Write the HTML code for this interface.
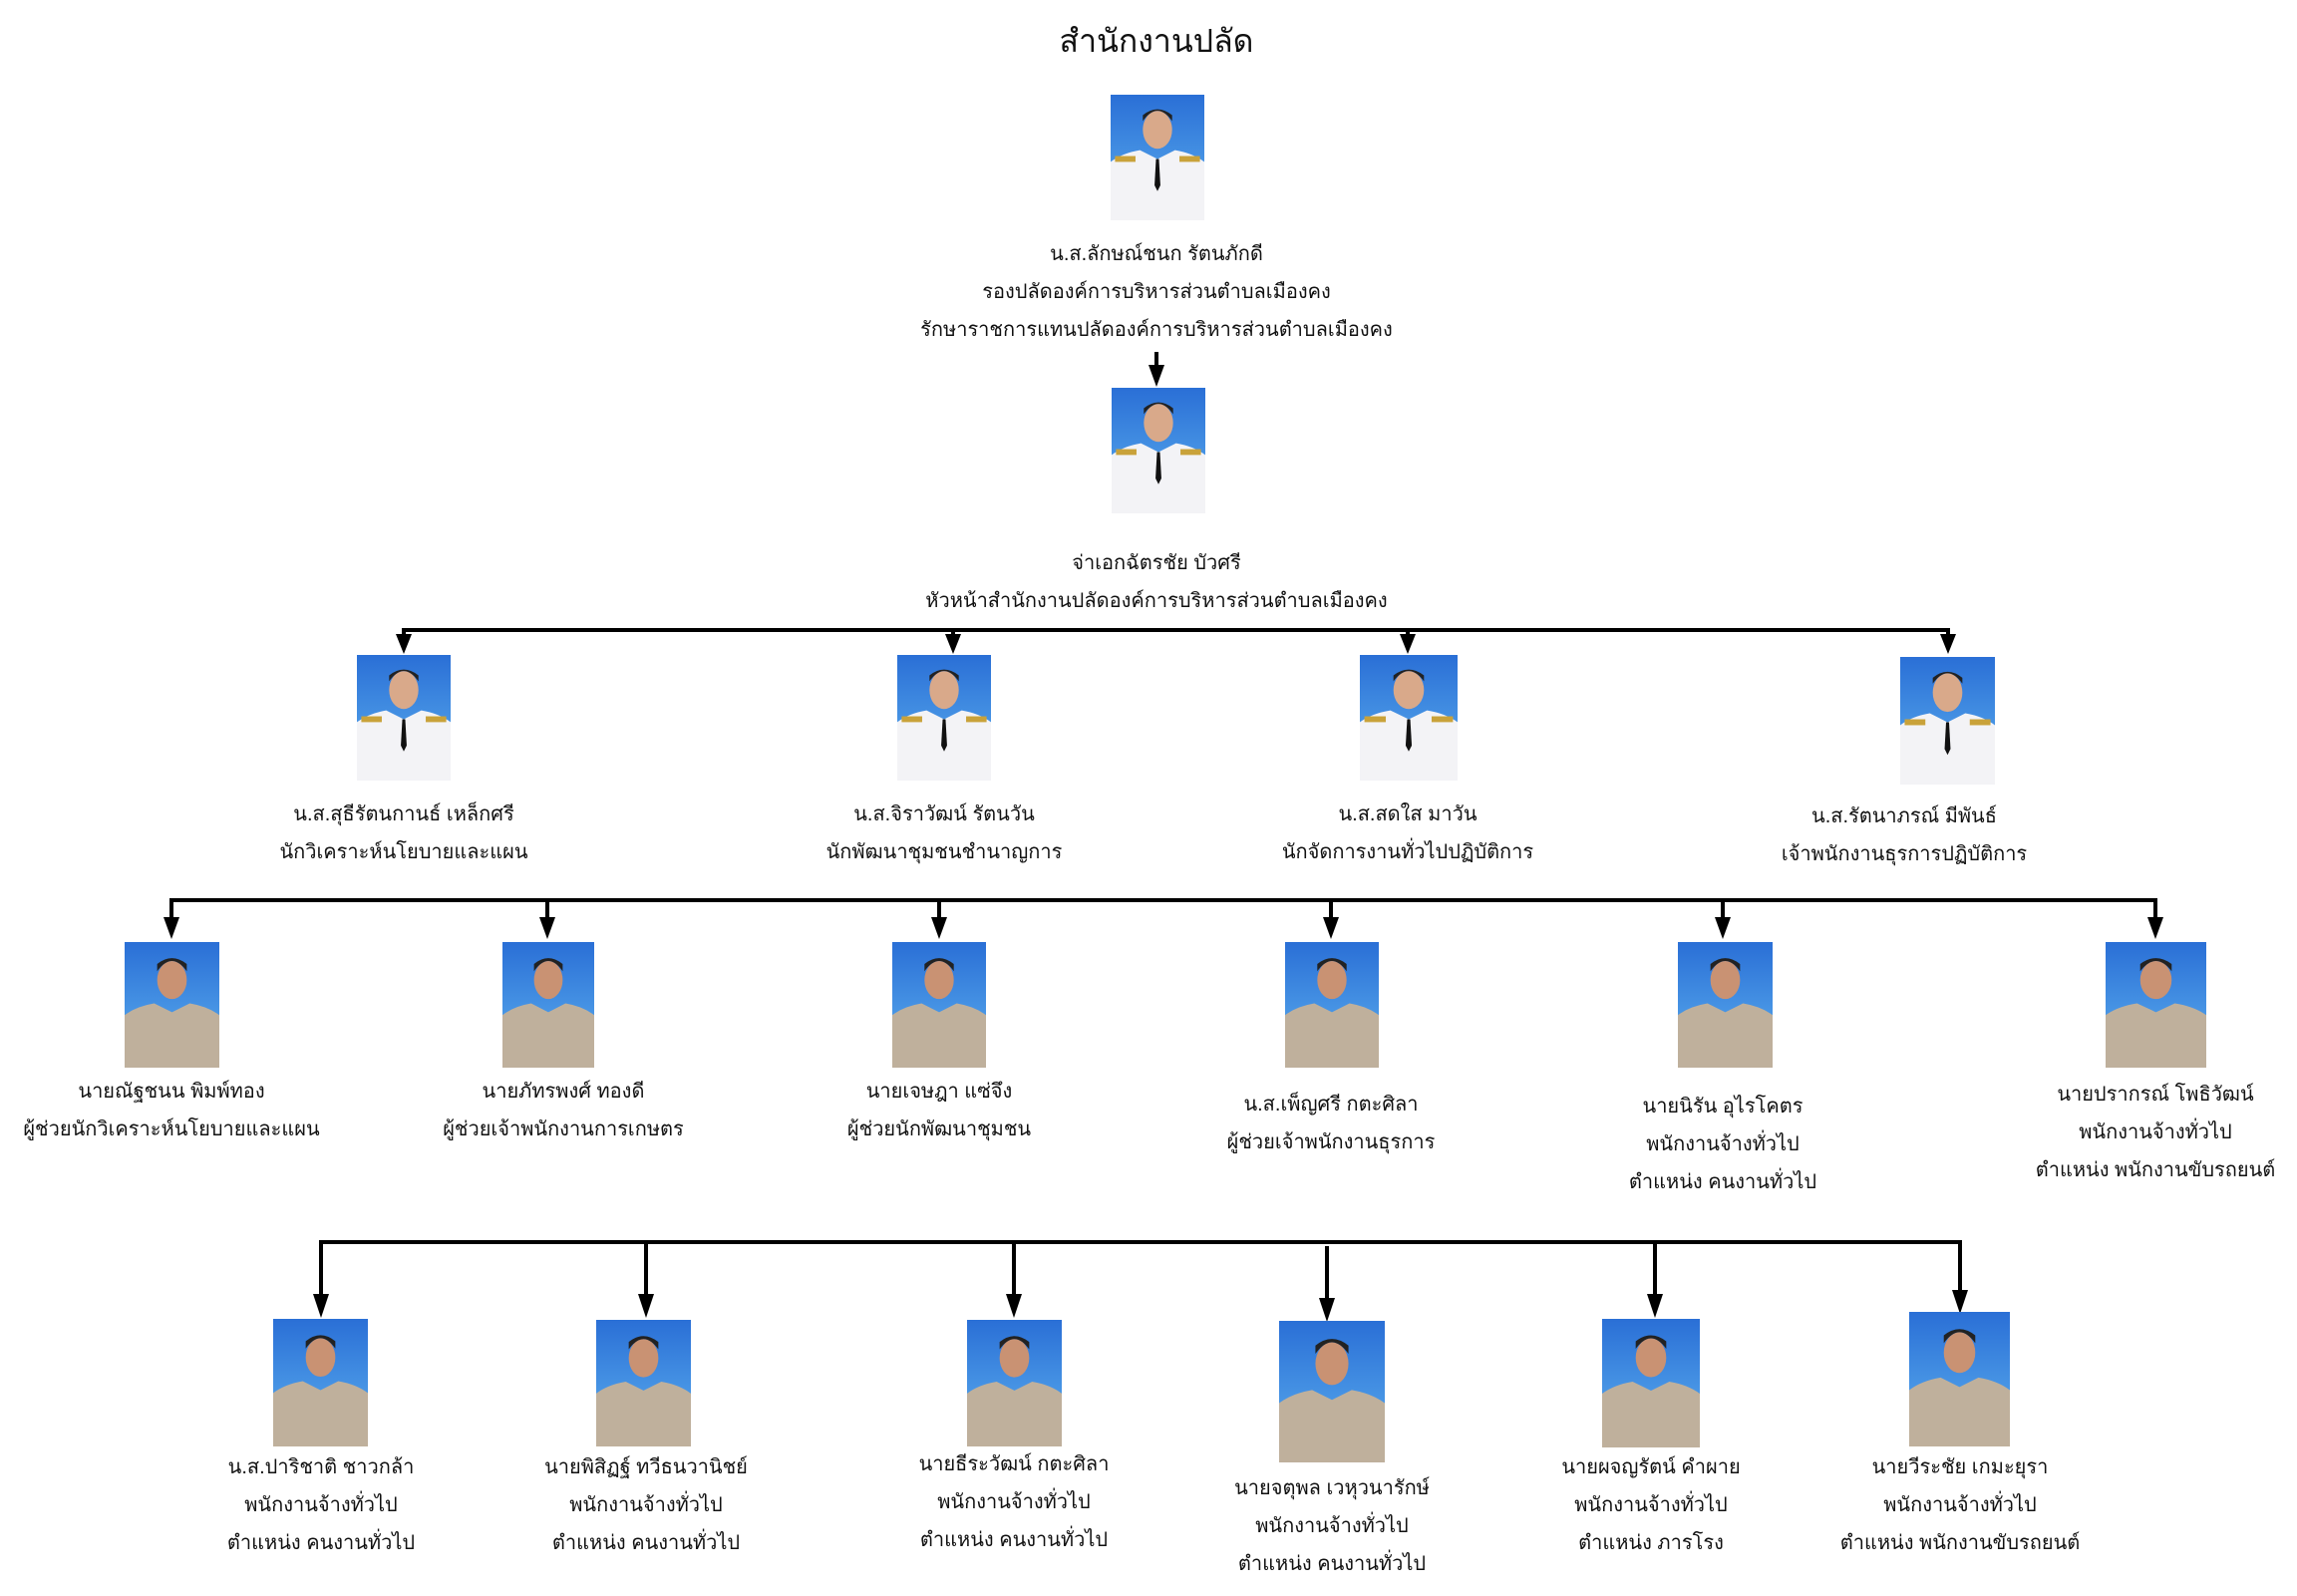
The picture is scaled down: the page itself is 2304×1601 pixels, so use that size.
<!DOCTYPE html>
<html><head><meta charset="utf-8"><style>
html,body{margin:0;padding:0;background:#fff;}
svg{display:block;}
text{font-family:"Liberation Sans","Noto Sans CJK SC",sans-serif;font-size:20px;fill:#111;text-anchor:middle;}
</style></head><body>
<svg width="2304" height="1601" viewBox="0 0 2304 1601" xmlns="http://www.w3.org/2000/svg">
<defs>
<linearGradient id="bg" x1="0" y1="0" x2="0" y2="1"><stop offset="0" stop-color="#2a6fd6"/><stop offset="1" stop-color="#5fb3f0"/></linearGradient>
<symbol id="w" viewBox="0 0 64 86" preserveAspectRatio="none">
<rect width="64" height="86" fill="url(#bg)"/>
<ellipse cx="32" cy="24" rx="10" ry="13" fill="#d9a98a"/>
<path d="M22 18 Q32 4 42 18 L42 14 Q32 6 22 14Z" fill="#222"/>
<path d="M0 86 L0 46 Q8 40 20 38 L32 44 L44 38 Q56 40 64 46 L64 86Z" fill="#f3f3f6"/>
<rect x="3" y="42" width="14" height="4" fill="#c9a23a"/><rect x="47" y="42" width="14" height="4" fill="#c9a23a"/>
<path d="M31 44 L33 44 L34 62 L32 66 L30 62Z" fill="#111"/>
</symbol>
<symbol id="k" viewBox="0 0 64 86" preserveAspectRatio="none">
<rect width="64" height="86" fill="url(#bg)"/>
<ellipse cx="32" cy="26" rx="10" ry="13" fill="#c99273"/>
<path d="M22 20 Q32 6 42 20 L42 15 Q32 7 22 15Z" fill="#222"/>
<path d="M0 86 L0 50 Q8 44 20 42 L32 48 L44 42 Q56 44 64 50 L64 86Z" fill="#bfb09c"/>
</symbol>
</defs>
<text x="1160" y="52" style="font-size:32px">สำนักงานปลัด</text>
<g stroke="#000" stroke-width="4" fill="none">
<line x1="1160" y1="353" x2="1160" y2="372"/>
<polyline points="405,650 405,632 1954,632 1954,650"/>
<line x1="956" y1="632" x2="956" y2="640"/><line x1="1412" y1="632" x2="1412" y2="640"/>
<polyline points="172,930 172,903 2162,903 2162,930"/>
<line x1="549" y1="903" x2="549" y2="925"/><line x1="942" y1="903" x2="942" y2="925"/><line x1="1335" y1="903" x2="1335" y2="925"/><line x1="1728" y1="903" x2="1728" y2="925"/>
<polyline points="322,1300 322,1246 1966,1246 1966,1300"/>
<line x1="648" y1="1246" x2="648" y2="1300"/><line x1="1017" y1="1246" x2="1017" y2="1300"/><line x1="1660" y1="1246" x2="1660" y2="1300"/>
<line x1="1331" y1="1250" x2="1331" y2="1305"/>
</g>
<g fill="#000">
<path d="M1152 366 L1168 366 L1160 388Z"/>
<path d="M397 636 L413 636 L405 656Z"/><path d="M948 636 L964 636 L956 656Z"/><path d="M1404 636 L1420 636 L1412 656Z"/><path d="M1946 636 L1962 636 L1954 656Z"/>
<path d="M164 920 L180 920 L172 942Z"/><path d="M541 920 L557 920 L549 942Z"/><path d="M934 920 L950 920 L942 942Z"/><path d="M1327 920 L1343 920 L1335 942Z"/><path d="M1720 920 L1736 920 L1728 942Z"/><path d="M2154 920 L2170 920 L2162 942Z"/>
<path d="M314 1298 L330 1298 L322 1322Z"/><path d="M640 1298 L656 1298 L648 1322Z"/><path d="M1009 1298 L1025 1298 L1017 1322Z"/><path d="M1323 1302 L1339 1302 L1331 1326Z"/><path d="M1652 1298 L1668 1298 L1660 1322Z"/><path d="M1958 1294 L1974 1294 L1966 1318Z"/>
</g>
<use href="#w" x="1114" y="95" width="94" height="126"/>
<use href="#w" x="1115" y="389" width="94" height="126"/>
<use href="#w" x="358" y="657" width="94" height="126"/>
<use href="#w" x="900" y="657" width="94" height="126"/>
<use href="#w" x="1364" y="657" width="98" height="126"/>
<use href="#w" x="1906" y="659" width="95" height="128"/>
<use href="#k" x="125" y="945" width="95" height="126"/>
<use href="#k" x="504" y="945" width="92" height="126"/>
<use href="#k" x="895" y="945" width="94" height="126"/>
<use href="#k" x="1289" y="945" width="94" height="126"/>
<use href="#k" x="1683" y="945" width="95" height="126"/>
<use href="#k" x="2112" y="945" width="101" height="126"/>
<use href="#k" x="274" y="1323" width="95" height="128"/>
<use href="#k" x="598" y="1324" width="95" height="127"/>
<use href="#k" x="970" y="1324" width="95" height="127"/>
<use href="#k" x="1283" y="1325" width="106" height="142"/>
<use href="#k" x="1607" y="1323" width="98" height="129"/>
<use href="#k" x="1915" y="1316" width="101" height="135"/>
<text x="1160" y="261">น.ส.ลักษณ์ชนก รัตนภักดี</text>
<text x="1160" y="299">รองปลัดองค์การบริหารส่วนตำบลเมืองคง</text>
<text x="1160" y="337">รักษาราชการแทนปลัดองค์การบริหารส่วนตำบลเมืองคง</text>
<text x="1160" y="571">จ่าเอกฉัตรชัย บัวศรี</text>
<text x="1160" y="609">หัวหน้าสำนักงานปลัดองค์การบริหารส่วนตำบลเมืองคง</text>
<text x="405" y="823">น.ส.สุธีรัตนกานธ์ เหล็กศรี</text>
<text x="405" y="861">นักวิเคราะห์นโยบายและแผน</text>
<text x="947" y="823">น.ส.จิราวัฒน์ รัตนวัน</text>
<text x="947" y="861">นักพัฒนาชุมชนชำนาญการ</text>
<text x="1412" y="823">น.ส.สดใส  มาวัน</text>
<text x="1412" y="861">นักจัดการงานทั่วไปปฏิบัติการ</text>
<text x="1910" y="825">น.ส.รัตนาภรณ์  มีพันธ์</text>
<text x="1910" y="863">เจ้าพนักงานธุรการปฏิบัติการ</text>
<text x="172" y="1101">นายณัฐชนน พิมพ์ทอง</text>
<text x="172" y="1139">ผู้ช่วยนักวิเคราะห์นโยบายและแผน</text>
<text x="565" y="1101">นายภัทรพงศ์ ทองดี</text>
<text x="565" y="1139">ผู้ช่วยเจ้าพนักงานการเกษตร</text>
<text x="942" y="1101">นายเจษฎา แซ่จึง</text>
<text x="942" y="1139">ผู้ช่วยนักพัฒนาชุมชน</text>
<text x="1335" y="1114">น.ส.เพ็ญศรี  กตะศิลา</text>
<text x="1335" y="1152">ผู้ช่วยเจ้าพนักงานธุรการ</text>
<text x="1728" y="1116">นายนิรัน  อุไรโคตร</text>
<text x="1728" y="1154">พนักงานจ้างทั่วไป</text>
<text x="1728" y="1192">ตำแหน่ง คนงานทั่วไป</text>
<text x="2162" y="1104">นายปรากรณ์  โพธิวัฒน์</text>
<text x="2162" y="1142">พนักงานจ้างทั่วไป</text>
<text x="2162" y="1180">ตำแหน่ง พนักงานขับรถยนต์</text>
<text x="322" y="1478">น.ส.ปาริชาติ  ชาวกล้า</text>
<text x="322" y="1516">พนักงานจ้างทั่วไป</text>
<text x="322" y="1554">ตำแหน่ง คนงานทั่วไป</text>
<text x="648" y="1478">นายพิสิฏฐ์  ทวีธนวานิชย์</text>
<text x="648" y="1516">พนักงานจ้างทั่วไป</text>
<text x="648" y="1554">ตำแหน่ง คนงานทั่วไป</text>
<text x="1017" y="1475">นายธีระวัฒน์  กตะศิลา</text>
<text x="1017" y="1513">พนักงานจ้างทั่วไป</text>
<text x="1017" y="1551">ตำแหน่ง คนงานทั่วไป</text>
<text x="1336" y="1499">นายจตุพล  เวหุวนารักษ์</text>
<text x="1336" y="1537">พนักงานจ้างทั่วไป</text>
<text x="1336" y="1575">ตำแหน่ง คนงานทั่วไป</text>
<text x="1656" y="1478">นายผจญรัตน์  คำผาย</text>
<text x="1656" y="1516">พนักงานจ้างทั่วไป</text>
<text x="1656" y="1554">ตำแหน่ง ภารโรง</text>
<text x="1966" y="1478">นายวีระชัย  เกมะยุรา</text>
<text x="1966" y="1516">พนักงานจ้างทั่วไป</text>
<text x="1966" y="1554">ตำแหน่ง พนักงานขับรถยนต์</text>
</svg>
</body></html>
